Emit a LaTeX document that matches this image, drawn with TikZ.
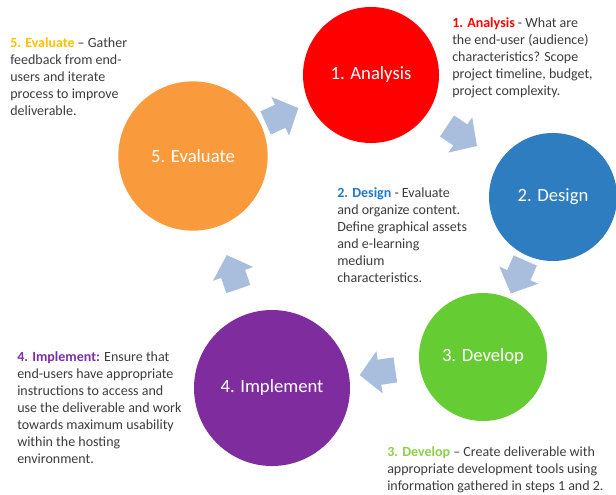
\documentclass[tikz,border=0pt]{standalone}
\usepackage{fontspec}
\setmainfont{Carlito}
\usetikzlibrary{calc,arrows.meta}
\definecolor{anared}{HTML}{FF0000}
\definecolor{desblue}{HTML}{2E7DC0}
\definecolor{devgreen}{HTML}{66CC33}
\definecolor{imppurple}{HTML}{7E2C9E}
\definecolor{evaorange}{HTML}{F99B3D}
\definecolor{flowblue}{HTML}{A8BEDC}
\definecolor{notegray}{HTML}{3C3C3C}
\definecolor{anatitle}{HTML}{FF0000}
\definecolor{destitle}{HTML}{1F78C8}
\definecolor{devtitle}{HTML}{8CD048}
\definecolor{imptitle}{HTML}{7A2FA8}
\definecolor{evatitle}{HTML}{FFC000}

\begin{document}
\begin{tikzpicture}[x=0.75pt,y=-0.75pt,
			phase/.style={circle,draw=none,inner sep=0pt,text=white,font=\fontsize{14}{16}\selectfont},
			flow/.style={draw=flowblue,line width=19pt,line join=miter,-{Triangle[width=31pt,length=15pt]}},
			note/.style={anchor=north west,align=left,inner sep=0pt,text=notegray,font=\fontsize{10.5}{12.8}\selectfont}
			]

		\useasboundingbox (0,0) rectangle (616,494);

		\node [phase, fill=anared, minimum size=102pt] (ana) at (371,75) {1. Analysis};
		\node [phase, fill=desblue, minimum size=96pt] (des) at (553,197) {2. Design};
		\node [phase, fill=devgreen, minimum size=96pt] (dev) at (483,357) {3. Develop};
		\node [phase, fill=imppurple, minimum size=117pt] (imp) at (272,388) {4. Implement};
		\node [phase, fill=evaorange, minimum size=112pt] (eva) at (193,156) {5. Evaluate};

		\draw [flow] ($(eva)!0.5!(ana)!-13.5pt!(ana)$) -- ($(eva)!0.5!(ana)!13.5pt!(ana)$);
		\draw [flow] ($(ana)!0.5!(des)!-13.5pt!(des)$) -- ($(ana)!0.5!(des)!13.5pt!(des)$);
		\draw [flow] ($(des)!0.5!(dev)!-13.5pt!(dev)$) -- ($(des)!0.5!(dev)!13.5pt!(dev)$);
		\draw [flow] ($(dev)!0.5!(imp)!-13.5pt!(imp)$) -- ($(dev)!0.5!(imp)!13.5pt!(imp)$);
		\draw [flow] ($(imp)!0.5!(eva)!-13.5pt!(eva)$) -- ($(imp)!0.5!(eva)!13.5pt!(eva)$);

		\node [note] (evanote) at (10,37) {\textcolor{evatitle}{\textbf{5. Evaluate}} -- Gather\\
			feedback from end-\\users and iterate\\process to improve\\deliverable.};
		\node [note] (ananote) at (452,17) {\textcolor{anatitle}{\textbf{1. Analysis}} - What are\\
			the end-user (audience)\\characteristics? Scope\\project timeline, budget,\\project complexity.};
		\node [note] (desnote) at (337,187) {\textcolor{destitle}{\textbf{2. Design}} - Evaluate\\
			and organize content.\\Define graphical assets\\and e-learning\\medium\\characteristics.};
		\node [note] (impnote) at (17,351) {\textcolor{imptitle}{\textbf{4. Implement:}} Ensure that\\
			end-users have appropriate\\instructions to access and\\use the deliverable and work\\
			towards maximum usability\\within the hosting\\environment.};
		\node [note] (devnote) at (387,446) {\textcolor{devtitle}{\textbf{3. Develop}} -- Create deliverable with\\
			appropriate development tools using\\information gathered in steps 1 and 2.};

		\end{tikzpicture}
\end{document}
